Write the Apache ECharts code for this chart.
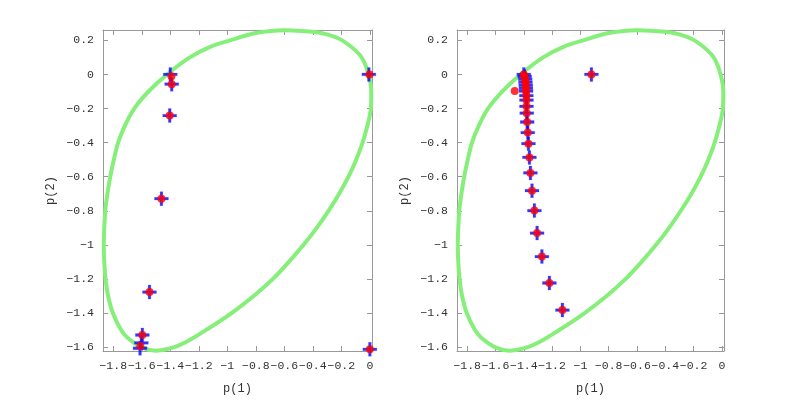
<!DOCTYPE html>
<html>
<head>
<meta charset="utf-8">
<script src="https://cdn.jsdelivr.net/npm/echarts@6/dist/echarts.min.js"></script>
<style>html,body{margin:0;padding:0;background:#fff}#c{width:800px;height:400px}</style>
</head>
<body>
<div id="c"></div>
<script>
// ---- data ----
const xTicks = [-1.8, -1.6, -1.4, -1.2, -1, -0.8, -0.6, -0.4, -0.2, 0];
const yTicks = [-1.6, -1.4, -1.2, -1, -0.8, -0.6, -0.4, -0.2, 0, 0.2];
const xRange = [-1.872, 0.015];
const yRange = [-1.623, 0.261];
const xName = 'p(1)';
const yName = 'p(2)';

// green region boundary (same on both panels), read clockwise from the left extreme
const curveX = [-1.867, -1.863, -1.856, -1.841, -1.821, -1.796, -1.766, -1.718, -1.653, -1.553, -1.423, -1.263, -1.120, -0.981, -0.800, -0.600, -0.400, -0.300, -0.200, -0.100, -0.050, -0.009, 0.010, 0.007, -0.017, -0.051, -0.096, -0.150, -0.215, -0.290, -0.373, -0.465, -0.568, -0.680, -0.815, -0.970, -1.150, -1.300, -1.400, -1.500, -1.600, -1.700, -1.745, -1.803, -1.836, -1.854, -1.863, -1.867];
const curveY = [-1.000, -0.900, -0.800, -0.700, -0.600, -0.500, -0.400, -0.300, -0.200, -0.100, 0.000, 0.100, 0.162, 0.200, 0.243, 0.260, 0.251, 0.235, 0.203, 0.140, 0.090, 0.000, -0.100, -0.200, -0.300, -0.400, -0.500, -0.600, -0.700, -0.800, -0.900, -1.000, -1.100, -1.200, -1.300, -1.400, -1.500, -1.575, -1.608, -1.621, -1.602, -1.545, -1.500, -1.400, -1.300, -1.200, -1.100, -1.000];

// left panel
const leftBlueX = [-1.400, -1.390, -1.404, -1.462, -1.546, -1.596, -1.603, -1.612, -0.007, 0.000];
const leftBlueY = [0.000, -0.057, -0.241, -0.729, -1.277, -1.529, -1.575, -1.607, 0.000, -1.613];
const leftRedX = [-1.392, -1.390, -1.404, -1.462, -1.546, -1.596, -1.610, -0.003, 0.000];
const leftRedY = [-0.010, -0.057, -0.241, -0.729, -1.277, -1.529, -1.594, 0.000, -1.613];

// right panel
const rightBlueX = [-1.400, -1.394, -1.390, -1.388, -1.386, -1.385, -1.384, -1.382, -1.381, -1.381, -1.379, -1.376, -1.372, -1.367, -1.360, -1.353, -1.342, -1.325, -1.306, -1.272, -1.219, -1.127, -0.922];
const rightBlueY = [0.000, -0.012, -0.029, -0.046, -0.064, -0.081, -0.098, -0.124, -0.150, -0.187, -0.227, -0.279, -0.341, -0.406, -0.487, -0.578, -0.682, -0.799, -0.931, -1.069, -1.224, -1.383, 0.000];
const rightRedX = [-1.400, -1.394, -1.390, -1.388, -1.386, -1.385, -1.384, -1.382, -1.381, -1.381, -1.379, -1.376, -1.372, -1.367, -1.360, -1.353, -1.342, -1.325, -1.306, -1.272, -1.219, -1.127, -0.922, -1.464];
const rightRedY = [0.000, -0.012, -0.029, -0.046, -0.064, -0.081, -0.098, -0.124, -0.150, -0.187, -0.227, -0.279, -0.341, -0.406, -0.487, -0.578, -0.682, -0.799, -0.931, -1.069, -1.224, -1.383, 0.000, -0.097];

// ---- chart ----
const zip = (a, b) => a.map((v, i) => [v, b[i]]);
const FONT = 'Liberation Mono';
const FS = 11.5;
const AX = '#999';
const fmt = v => {
  const s = Math.abs(v) < 1e-9 ? '0' : String(+v.toFixed(1));
  return s.replace('-', '\u2212');
};
const CROSS = 'path://M4,0h2v4h4v2h-4v4h-2v-4h-4v-2h4z';

function xAxes(g) {
  return [
    { gridIndex: g, type: 'value', position: 'bottom', min: xRange[0], max: xRange[1],
      axisLine: { show: true, onZero: false, lineStyle: { color: AX } },
      axisTick: { show: true, inside: true, length: 5, customValues: xTicks, lineStyle: { color: AX } },
      axisLabel: { customValues: xTicks, formatter: fmt, fontFamily: FONT, fontSize: FS, color: '#333', margin: 9,
        showMinLabel: true, showMaxLabel: true, hideOverlap: false },
      splitLine: { show: false },
      name: xName, nameLocation: 'middle', nameGap: 32,
      nameTextStyle: { fontFamily: FONT, fontSize: 12, color: '#333' } },
    { gridIndex: g, type: 'value', position: 'top', min: xRange[0], max: xRange[1],
      axisLine: { show: true, onZero: false, lineStyle: { color: AX } },
      axisTick: { show: true, inside: true, length: 5, customValues: xTicks, lineStyle: { color: AX } },
      axisLabel: { show: false }, splitLine: { show: false } }
  ];
}
function yAxes(g) {
  return [
    { gridIndex: g, type: 'value', position: 'left', min: yRange[0], max: yRange[1],
      axisLine: { show: true, onZero: false, lineStyle: { color: AX } },
      axisTick: { show: true, inside: true, length: 5, customValues: yTicks, lineStyle: { color: AX } },
      axisLabel: { customValues: yTicks, formatter: fmt, fontFamily: FONT, fontSize: FS, color: '#333', margin: 9,
        showMinLabel: true, showMaxLabel: true, hideOverlap: false },
      splitLine: { show: false },
      name: yName, nameLocation: 'middle', nameGap: 46,
      nameTextStyle: { fontFamily: FONT, fontSize: 12, color: '#333' } },
    { gridIndex: g, type: 'value', position: 'right', min: yRange[0], max: yRange[1],
      axisLine: { show: true, onZero: false, lineStyle: { color: AX } },
      axisTick: { show: true, inside: true, length: 5, customValues: yTicks, lineStyle: { color: AX } },
      axisLabel: { show: false }, splitLine: { show: false } }
  ];
}

function panelSeries(g, bx, by, rx, ry) {
  const xi = g * 2, yi = g * 2;
  return [
    { type: 'line', xAxisIndex: xi, yAxisIndex: yi, data: zip(curveX, curveY),
      smooth: 0.3, showSymbol: false, clip: false, silent: true,
      lineStyle: { color: '#86ef7a', width: 4 }, z: 1 },
    { type: 'scatter', xAxisIndex: xi, yAxisIndex: yi, data: zip(bx, by),
      symbol: CROSS, symbolSize: 14, clip: false, itemStyle: { color: '#0000ff', borderColor: 'rgba(90,90,255,0.3)', borderWidth: 1 }, z: 2 },
    { type: 'scatter', xAxisIndex: xi, yAxisIndex: yi, data: zip(rx, ry),
      symbol: 'circle', symbolSize: 8, clip: false, itemStyle: { color: '#ff0000' }, z: 3 }
  ];
}

const chart = echarts.init(document.getElementById('c'), null, { renderer: 'canvas' });
chart.setOption({
  animation: false,
  backgroundColor: '#fff',
  grid: [
    { left: 103, top: 30, width: 269, height: 325 },
    { left: 457, top: 30, width: 267, height: 325 }
  ],
  xAxis: [...xAxes(0), ...xAxes(1)],
  yAxis: [...yAxes(0), ...yAxes(1)],
  series: [
    ...panelSeries(0, leftBlueX, leftBlueY, leftRedX, leftRedY),
    ...panelSeries(1, rightBlueX, rightBlueY, rightRedX, rightRedY)
  ]
});
</script>
</body>
</html>
